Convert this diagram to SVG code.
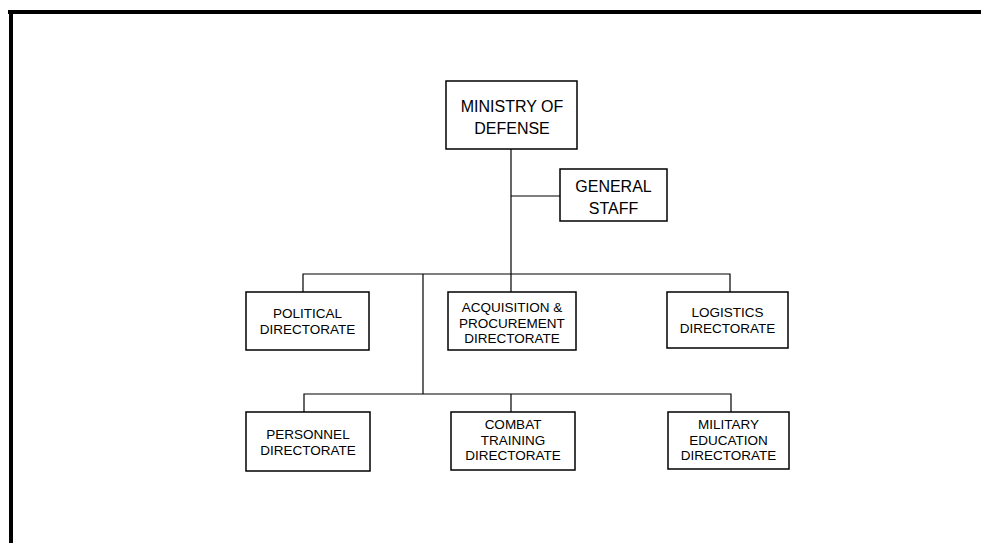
<svg xmlns="http://www.w3.org/2000/svg" width="981" height="543" viewBox="0 0 981 543">
<style>
.box{fill:#fff;stroke:#000;stroke-width:1.5}
.ln{fill:none;stroke:#000;stroke-width:1.2}
text{font-family:"Liberation Sans",Arial,sans-serif;fill:#000;text-anchor:middle}
.big{font-size:16px}
.sm{font-size:13.5px}
</style>
<rect x="0" y="0" width="981" height="543" fill="#fff"/>
<rect x="8" y="10" width="973" height="4" fill="#000"/>
<rect x="9" y="10" width="4" height="533" fill="#000"/>
<g id="connectors">
<path class="ln" d="M511,149 V292"/>
<path class="ln" d="M511,196 H560"/>
<path class="ln" d="M303,292 V274 H730 V292"/>
<path class="ln" d="M423,274 V394"/>
<path class="ln" d="M304,412 V394 H731 V412"/>
<path class="ln" d="M511,394 V412"/>
</g>
<g id="ministry">
<rect class="box" x="446" y="81" width="131" height="68"/>
<text class="big" x="512" y="111.5">MINISTRY OF</text>
<text class="big" x="512" y="134">DEFENSE</text>
</g>
<g id="general-staff">
<rect class="box" x="560" y="169" width="107" height="52"/>
<text class="big" x="613.5" y="192">GENERAL</text>
<text class="big" x="613.5" y="214">STAFF</text>
</g>
<g id="political">
<rect class="box" x="246" y="292" width="123" height="58"/>
<text class="sm" x="307.5" y="318">POLITICAL</text>
<text class="sm" x="307.5" y="334">DIRECTORATE</text>
</g>
<g id="acquisition">
<rect class="box" x="448" y="292" width="128" height="58"/>
<text class="sm" x="512" y="312">ACQUISITION &amp;</text>
<text class="sm" x="512" y="327.5">PROCUREMENT</text>
<text class="sm" x="512" y="342.5">DIRECTORATE</text>
</g>
<g id="logistics">
<rect class="box" x="667" y="292" width="121" height="56"/>
<text class="sm" x="727.5" y="317">LOGISTICS</text>
<text class="sm" x="727.5" y="333">DIRECTORATE</text>
</g>
<g id="personnel">
<rect class="box" x="246" y="412" width="124" height="59"/>
<text class="sm" x="308" y="438.5">PERSONNEL</text>
<text class="sm" x="308" y="455">DIRECTORATE</text>
</g>
<g id="combat">
<rect class="box" x="451" y="412" width="124" height="58"/>
<text class="sm" x="513" y="429">COMBAT</text>
<text class="sm" x="513" y="444.5">TRAINING</text>
<text class="sm" x="513" y="460">DIRECTORATE</text>
</g>
<g id="military-education">
<rect class="box" x="668" y="412" width="121" height="57"/>
<text class="sm" x="728.5" y="429">MILITARY</text>
<text class="sm" x="728.5" y="444.5">EDUCATION</text>
<text class="sm" x="728.5" y="460">DIRECTORATE</text>
</g>
</svg>
